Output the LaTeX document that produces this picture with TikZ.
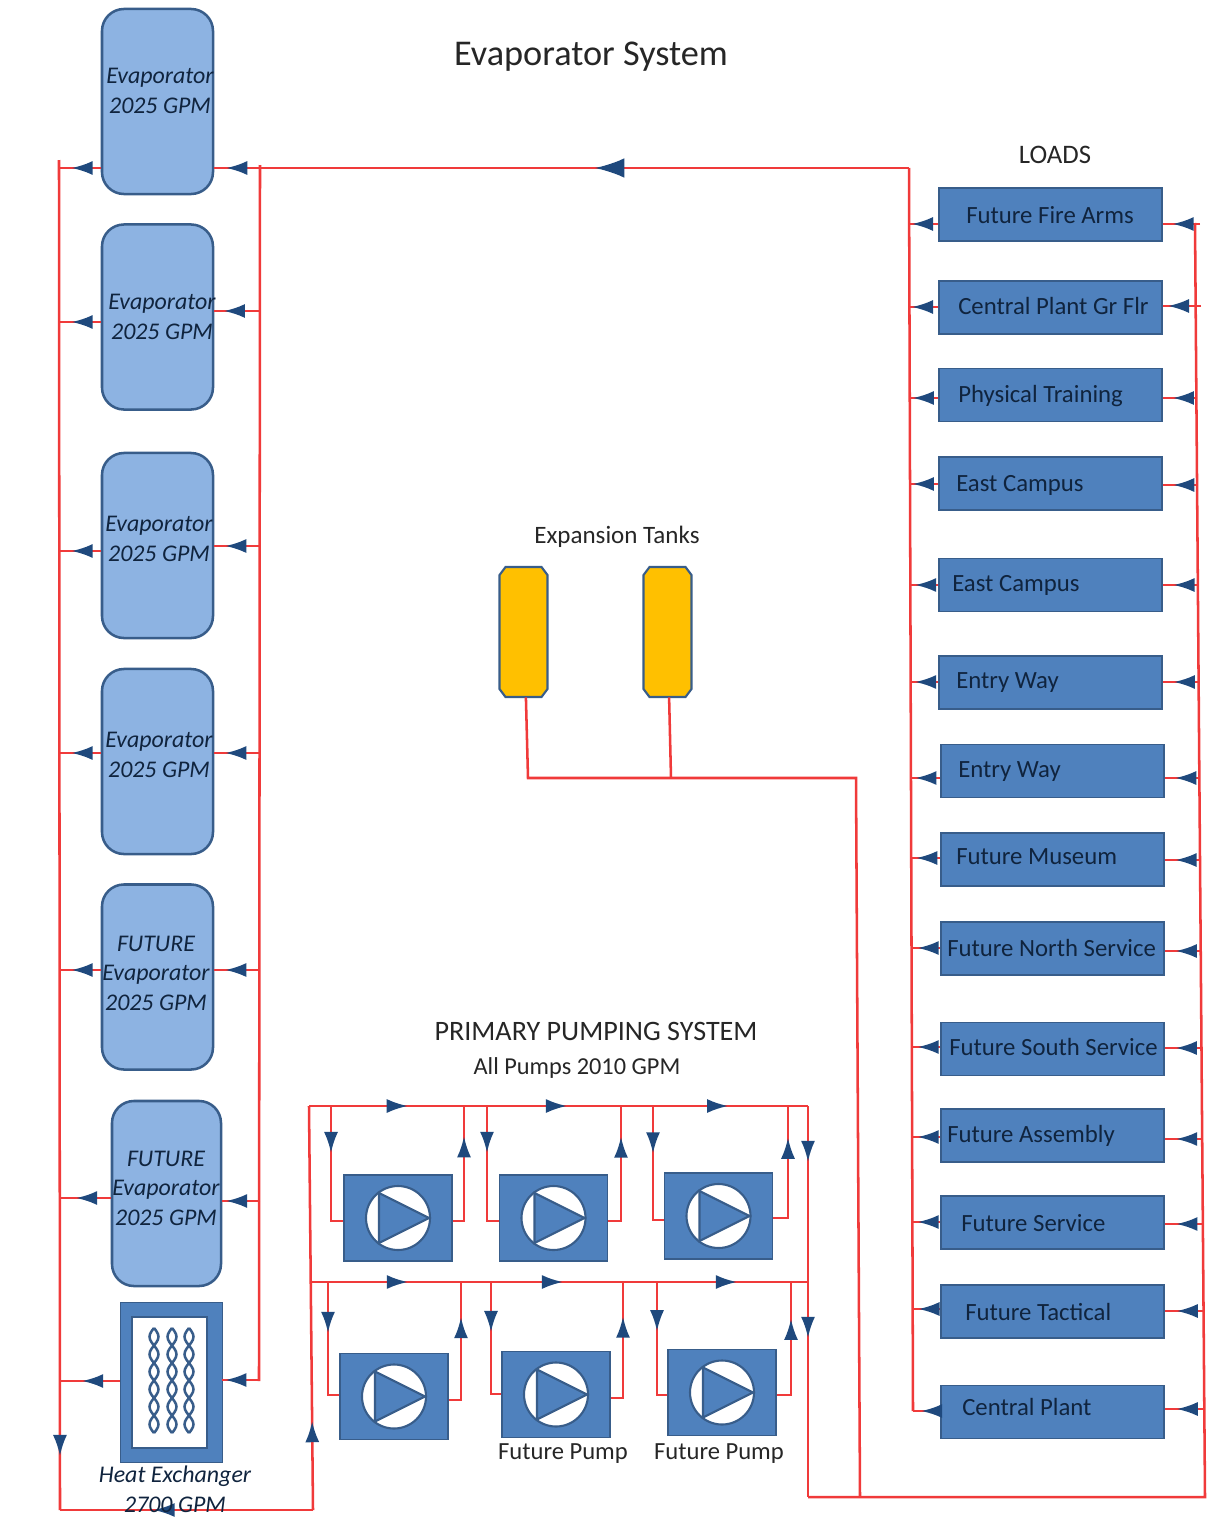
\documentclass[tikz,border=0pt]{standalone}
\usepackage{fontspec}
\setmainfont{Carlito}
\usepackage{xcolor}
\usetikzlibrary{arrows.meta,decorations.markings}
\definecolor{pipered}{HTML}{F03A3A}
\definecolor{tipnavy}{HTML}{1F497D}
\definecolor{edgeblue}{HTML}{385D8A}
\definecolor{loadblue}{HTML}{4F81BD}
\definecolor{evapblue}{HTML}{8DB3E2}
\definecolor{tankgold}{HTML}{FFC000}
\definecolor{inkdark}{HTML}{10243E}

\begin{document}
\begin{tikzpicture}[
  x=0.025cm, y=-0.025cm,
  evap/.style={draw=edgeblue, line width=1.8pt, rounded corners=5.5mm, fill=evapblue,
               minimum width=27.75mm, minimum height=46.25mm, inner sep=0pt},
  loadbox/.style={draw=edgeblue, line width=1.3pt, fill=loadblue,
                  minimum width=55.75mm, minimum height=13.25mm, inner sep=0pt},
  pumpbox/.style={draw=edgeblue, line width=1.3pt, fill=loadblue,
                  minimum width=27mm, minimum height=21.5mm, inner sep=0pt},
  tank/.style={minimum width=12.25mm, minimum height=32.5mm, inner sep=0pt},
  evaptext/.style={font=\fontsize{17}{21}\selectfont\itshape, text=inkdark, align=center, inner sep=0pt},
  loadtext/.style={font=\fontsize{17.6}{20}\selectfont, text=inkdark, anchor=west, inner sep=0pt},
  headtext/.style={font=\fontsize{17.8}{20}\selectfont, text=black!85, inner sep=0pt},
  pipe/.style={draw=pipered, line width=1.8pt, line join=miter},
  flow/.style={postaction={decorate, decoration={markings, mark=at position #1 with
               {\arrow{Latex[length=15pt,width=10pt,color=tipnavy]}}}}},
  bigflow/.style={postaction={decorate, decoration={markings, mark=at position #1 with
               {\arrow{Latex[length=21pt,width=14pt,color=tipnavy]}}}}},
  pumpicon/.pic={
    \filldraw[draw=edgeblue, fill=white, line width=1.5pt] (0,0) circle (32);
    \filldraw[draw=edgeblue, fill=loadblue, line width=1.5pt] (-19,-25) -- (31,0) -- (-19,25) -- cycle;
  },
  tankbody/.pic={
    \filldraw[draw=edgeblue, fill=tankgold, line width=1.5pt]
      (-18,-65) -- (18,-65) -- (24,-57) -- (24,57) -- (18,65) -- (-18,65) -- (-24,57) -- (-24,-57) -- cycle;
  }
]
  \useasboundingbox (0,0) rectangle (1216,1518);

  % Headings
  \node[headtext, font=\fontsize{25.8}{30}\selectfont] (title) at (591,57) {Evaporator System};
  \node[headtext, font=\fontsize{19}{22}\selectfont] (loadshead) at (1055,155) {LOADS};
  \node[headtext] (tankhead) at (617,537) {Expansion Tanks};
  \node[headtext, font=\fontsize{20}{24}\selectfont] (pumphead) at (596,1031) {PRIMARY PUMPING SYSTEM};
  \node[headtext, font=\fontsize{17.3}{20}\selectfont] (pumpsub) at (577,1068) {All Pumps 2010 GPM};

  % Evaporators down the left
  \node[evap] (eva1) at (157.5,101.5) {};
  \node[evap] (eva2) at (157.5,317) {};
  \node[evap] (eva3) at (157.5,545.5) {};
  \node[evap] (eva4) at (157.5,761.5) {};
  \node[evap] (eva5) at (157.5,977) {};
  \node[evap, minimum width=27.25mm] (eva6) at (166.5,1193.5) {};

  % Heat exchanger
  \node[draw=edgeblue, fill=loadblue, minimum width=25.5mm, minimum height=40mm, inner sep=0pt] (hx) at (171,1382) {};
  \node[draw=edgeblue, line width=1pt, fill=white, minimum width=18.75mm, minimum height=32.75mm, inner sep=0pt] (hxcore) at (169.5,1382.5) {};
  \foreach \cx in {154,172,189} {
    \draw[edgeblue, line width=1.8pt] plot[smooth, domain=0:1, samples=37, variable=\t] ({\cx+4.5*sin(\t*1080)},{1328+105*\t});
    \draw[edgeblue, line width=1.8pt] plot[smooth, domain=0:1, samples=37, variable=\t] ({\cx-4.5*sin(\t*1080)},{1328+105*\t});
  }

  % Expansion tanks
  \node[tank] (tank1) at (523.5,632) {};
  \node[tank] (tank2) at (667.5,632) {};
  \pic at (tank1) {tankbody};
  \pic at (tank2) {tankbody};

  % Loads down the right
  \node[loadbox] (load1) at (1050.5,214.5) {};
  \node[loadbox] (load2) at (1050.5,307.5) {};
  \node[loadbox] (load3) at (1050.5,395) {};
  \node[loadbox] (load4) at (1050.5,483.5) {};
  \node[loadbox] (load5) at (1050.5,585) {};
  \node[loadbox] (load6) at (1050.5,682.5) {};
  \node[loadbox] (load7) at (1052.5,771) {};
  \node[loadbox] (load8) at (1052.5,859.5) {};
  \node[loadbox] (load9) at (1052.5,948.5) {};
  \node[loadbox] (load10) at (1052.5,1049) {};
  \node[loadbox] (load11) at (1052.5,1135.5) {};
  \node[loadbox] (load12) at (1052.5,1222.5) {};
  \node[loadbox] (load13) at (1052.5,1311.5) {};
  \node[loadbox] (load14) at (1052.5,1412) {};

  % Pumps, upper row then lower row
  \node[pumpbox] (pump1) at (398,1218) {};
  \node[pumpbox] (pump2) at (553.5,1218) {};
  \node[pumpbox] (pump3) at (718.5,1216) {};
  \node[pumpbox] (pump4) at (394,1396.5) {};
  \node[pumpbox] (pump5) at (556,1394.5) {};
  \node[pumpbox] (pump6) at (722,1392.5) {};
  \pic at (pump1) {pumpicon};
  \pic at (pump2) {pumpicon};
  \pic at (pump3) {pumpicon};
  \pic at (pump4) {pumpicon};
  \pic at (pump5) {pumpicon};
  \pic at (pump6) {pumpicon};

  % Main runs
  \coordinate (railLtop) at (59,160);
  \coordinate (railLbot) at (60,1510);
  \coordinate (railEtop) at (260,165);
  \coordinate (railEbot) at (259,1381);
  \coordinate (mainE) at (260,168);
  \coordinate (mainL) at (909,168);
  \coordinate (railWbot) at (913,1411);
  \coordinate (railRtop) at (1195,223);
  \coordinate (railRbot) at (1205,1497);
  \coordinate (feedB) at (313,1510);
  \coordinate (hdrTL) at (309,1106);
  \coordinate (hdrTR) at (808,1106);
  \coordinate (hdrML) at (311,1282);
  \coordinate (hdrMR) at (808,1282);
  \coordinate (hdrBR) at (808,1497);
  \coordinate (expA) at (528,778);
  \coordinate (expB) at (671,778);
  \coordinate (expC) at (856,778);
  \coordinate (expD) at (860,1497);

  \draw[pipe, flow=.96] (railLtop) -- (railLbot);
  \draw[pipe] (railEtop) -- (railEbot);
  \draw[pipe, bigflow=.484] (mainL) -- (mainE);
  \draw[pipe] (mainL) -- (railWbot);
  \draw[pipe, flow=.63] (feedB) -- (railLbot);
  \draw[pipe, flow=.22] (feedB) -- (hdrTL);
  \draw[pipe, flow=.198, flow=.517, flow=.84] (hdrTL) -- (hdrTR);
  \draw[pipe, flow=.195, flow=.507, flow=.857] (hdrML) -- (hdrMR);
  \draw[pipe, flow=.143, flow=.593] (hdrTR) -- (hdrBR);
  \draw[pipe] (hdrBR) -- (railRbot) -- (railRtop);

  % Expansion line
  \draw[pipe] ([xshift=0.6mm]tank1.south) -- (expA) -- (expC) -- (expD);
  \draw[pipe] ([xshift=0.4mm]tank2.south) -- (expB);

  % Evaporator stubs: rail-side y on each side and arrow positions
  \foreach \n/\yl/\pl/\yr/\pr in {eva1/168/.70/168/.74, eva2/322/.70/311/.79, eva3/551/.70/546/.76,
      eva4/753/.70/753/.76, eva5/970/.70/970/.76, eva6/1198/.67/1201/.90, hx/1381/.62/1380/.92} {
    \coordinate (\n stubL) at (59,\yl);
    \coordinate (\n stubR) at (260,\yr);
    \draw[pipe, flow=\pl] (\n stubL -| \n.west) -- (\n stubL);
    \draw[pipe, flow=\pr] (\n stubR) -- (\n stubR -| \n.east);
  }

  % Load stubs
  \foreach \n/\xl/\yl/\pl/\xr/\yr/\pr in {load1/909/224/.9/1200/224/.74, load2/909/307/.9/1201/306/.87,
      load3/910/398/.9/1196/398/.7, load4/910/484/.9/1197/485/.7, load5/911/585/.85/1198/585/.7,
      load6/911/682/.85/1199/682/.7, load7/911/778/.85/1199/778/.7, load8/912/858/.85/1200/860/.7,
      load9/912/948/.8/1201/951/.7, load10/912/1047/.8/1201/1048/.7, load11/912/1137/.8/1202/1139/.7,
      load12/912/1222/.8/1203/1224/.7, load13/913/1309/.8/1204/1311/.7, load14/913/1411/.7/1204/1409/.7} {
    \coordinate (\n stubL) at (\xl,\yl);
    \coordinate (\n stubR) at (\xr,\yr);
    \draw[pipe, flow=\pl] (\n stubL -| \n.west) -- (\n stubL);
    \draw[pipe, flow=\pr] (\n stubR) -- (\n stubR -| \n.east);
  }

  % Pump branches
  \coordinate (p1in) at (331,1106);
  \coordinate (p2in) at (487,1106);
  \coordinate (p3in) at (653,1106);
  \coordinate (p4in) at (328,1282);
  \coordinate (p5in) at (491,1282);
  \coordinate (p6in) at (657,1282);
  \coordinate (p1out) at (464,1106);
  \coordinate (p2out) at (621,1106);
  \coordinate (p3out) at (788,1106);
  \coordinate (p4out) at (461,1282);
  \coordinate (p5out) at (623,1282);
  \coordinate (p6out) at (791,1282);
  \draw[pipe, flow=.37] (p1in) -- (331,1221) -- (331,1221 -| pump1.west);
  \draw[pipe, flow=.37] (p2in) -- (487,1221) -- (487,1221 -| pump2.west);
  \draw[pipe, flow=.38] (p3in) -- (653,1220) -- (653,1220 -| pump3.west);
  \draw[pipe, flow=.41] (p4in) -- (328,1395) -- (328,1395 -| pump4.west);
  \draw[pipe, flow=.41] (p5in) -- (491,1394) -- (491,1394 -| pump5.west);
  \draw[pipe, flow=.40] (p6in) -- (657,1395) -- (657,1395 -| pump6.west);
  \draw[pipe, flow=.76] (464,1221 -| pump1.east) -- (464,1221) -- (p1out);
  \draw[pipe, flow=.76] (621,1221 -| pump2.east) -- (621,1221) -- (p2out);
  \draw[pipe, flow=.75] (788,1218 -| pump3.east) -- (788,1218) -- (p3out);
  \draw[pipe, flow=.73] (461,1400 -| pump4.east) -- (461,1400) -- (p4out);
  \draw[pipe, flow=.73] (623,1398 -| pump5.east) -- (623,1398) -- (p5out);
  \draw[pipe, flow=.71] (791,1395 -| pump6.east) -- (791,1395) -- (p6out);

  % Labels on top of the pipes
  \node[evaptext] (teva1) at (160,91) {Evaporator\\2025 GPM};
  \node[evaptext] (teva2) at (162,317) {Evaporator\\2025 GPM};
  \node[evaptext] (teva3) at (159,539) {Evaporator\\2025 GPM};
  \node[evaptext] (teva4) at (159,755) {Evaporator\\2025 GPM};
  \node[evaptext] (teva5) at (156,973) {FUTURE\\Evaporator\\2025 GPM};
  \node[evaptext] (teva6) at (166,1188) {FUTURE\\Evaporator\\2025 GPM};
  \node[evaptext] (thx) at (175,1489) {Heat Exchanger\\2700 GPM};
  \node[loadtext] (tload1) at (966,215) {Future Fire Arms};
  \node[loadtext] (tload2) at (958,306) {Central Plant Gr Flr};
  \node[loadtext] (tload3) at (958,396) {Physical Training};
  \node[loadtext] (tload4) at (956,485) {East Campus};
  \node[loadtext] (tload5) at (952,585) {East Campus};
  \node[loadtext] (tload6) at (956,683) {Entry Way};
  \node[loadtext] (tload7) at (958,772) {Entry Way};
  \node[loadtext] (tload8) at (956,857) {Future Museum};
  \node[loadtext] (tload9) at (947,948) {Future North Service};
  \node[loadtext] (tload10) at (949,1047) {Future South Service};
  \node[loadtext] (tload11) at (947,1136) {Future Assembly};
  \node[loadtext] (tload12) at (961,1223) {Future Service};
  \node[loadtext] (tload13) at (965,1312) {Future Tactical};
  \node[loadtext] (tload14) at (962,1407) {Central Plant};
  \node[headtext, font=\fontsize{17.5}{20}\selectfont] (tpump5) at (563,1454) {Future Pump};
  \node[headtext, font=\fontsize{17.5}{20}\selectfont] (tpump6) at (719,1454) {Future Pump};
\end{tikzpicture}
\end{document}
